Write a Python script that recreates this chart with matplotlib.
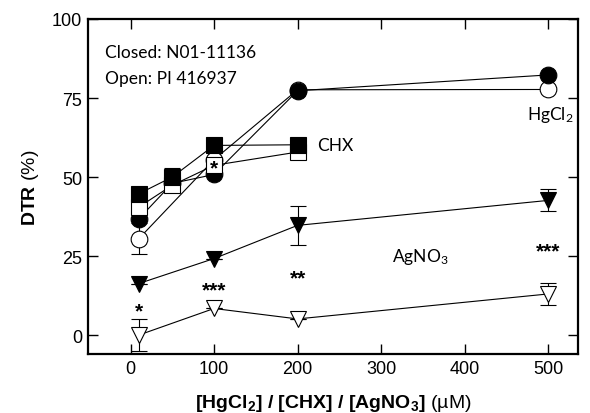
import matplotlib
matplotlib.use("Agg")
import matplotlib.pyplot as plt

# values (DTR, %)
x_hg = [10, 50, 100, 200, 500]
hg_closed = [36.8, 48.0, 50.8, 77.3, 82.3]
x_hg_open = [10, 100, 200, 500]
hg_open = [30.5, 55.5, 77.6, 77.7]
hg_open_err = [5.0, 0, 0, 0]

x_chx = [10, 50, 100, 200]
chx_closed = [44.7, 50.0, 60.0, 60.2]
chx_closed_err = [0, 2.8, 0, 0]
chx_open = [40.5, 47.4, 53.7, 57.9]
chx_open_err = [0, 1.5, 0, 0]

x_ag = [10, 100, 200, 500]
ag_closed = [16.3, 24.2, 34.7, 42.6]
ag_closed_err = [0, 0, 6.1, 3.5]
ag_open = [0.0, 8.4, 5.1, 13.0]
ag_open_err = [5.0, 0, 0, 3.6]

# significance marks: (x, y, label)
stars = [(10, 9.5, "*"), (100, 16.0, "***"), (200, 20.0, "**"),
         (500, 28.4, "***"), (100, 54.6, "*")]

plt.rcParams["font.family"] = "sans-serif"
plt.rcParams["font.sans-serif"] = ["Liberation Sans"]
plt.rcParams["mathtext.fontset"] = "custom"
plt.rcParams["mathtext.rm"] = "Lato"
plt.rcParams["mathtext.bf"] = "Liberation Sans:bold"

fig = plt.figure(figsize=(5.9, 4.14), dpi=100)
ax = fig.add_axes([0.149, 0.1425, 0.831, 0.8092])

series = [
    (x_hg_open, hg_open, hg_open_err, "o", "white"),
    (x_hg, hg_closed, None, "o", "black"),
    (x_chx, chx_open, chx_open_err, "s", "white"),
    (x_chx, chx_closed, chx_closed_err, "s", "black"),
    (x_ag, ag_open, ag_open_err, "v", "white"),
    (x_ag, ag_closed, ag_closed_err, "v", "black"),
]

for i, (xs, ys, err, mk, fc) in enumerate(series):
    ax.plot(xs, ys, color="black", lw=0.8, zorder=1)
    if err is not None:
        ax.errorbar(xs, ys, yerr=err, fmt="none", ecolor="black",
                    elinewidth=0.8, capsize=6, capthick=0.8, zorder=1.5)
    ax.plot(xs, ys, ls="none", marker=mk, ms=12, mfc=fc, mec="black",
            mew=0.8, zorder=3 + i)

# asterisk glyphs sit high in the line box, so anchor on the baseline
for sx, sy, s in stars:
    ax.annotate(s, (sx, sy), xytext=(0, -8), textcoords="offset points",
                ha="center", va="baseline", fontsize=15, fontweight="bold",
                zorder=20)

ax.text(0.035, 0.888, "Closed: N01-11136", transform=ax.transAxes,
        fontfamily="Lato", fontsize=12.5)
ax.text(0.035, 0.808, "Open: PI 416937", transform=ax.transAxes,
        fontfamily="Lato", fontsize=12.5)
ax.text(502, 70, "HgCl$_2$", ha="center", va="center",
        fontfamily="Lato", fontsize=12.5)
ax.text(223, 60, "CHX", ha="left", va="center",
        fontfamily="Lato", fontsize=12.5)
ax.text(347, 25, "AgNO$_3$", ha="center", va="center",
        fontfamily="Lato", fontsize=12.5)

ax.set_xlim(-51, 536)
ax.set_ylim(-6, 100)
ax.set_xticks([0, 100, 200, 300, 400, 500])
ax.set_yticks([0, 25, 50, 75, 100])
ax.tick_params(direction="in", length=7, width=1.0, labelsize=13,
               top=True, right=True, pad=4)
for lab in ax.get_xticklabels() + ax.get_yticklabels():
    lab.set_fontfamily("Liberation Sans")
for sp in ax.spines.values():
    sp.set_linewidth(1.6)

ax.set_ylabel(r"$\mathbf{DTR}$ (%)", fontsize=14, labelpad=8)
ax.set_xlabel(r"$\mathbf{[HgCl_2]\ /\ [CHX]\ /\ [AgNO_3]}$ (µM)",
              fontsize=14, labelpad=11)

fig.savefig("out.png", dpi=100)
